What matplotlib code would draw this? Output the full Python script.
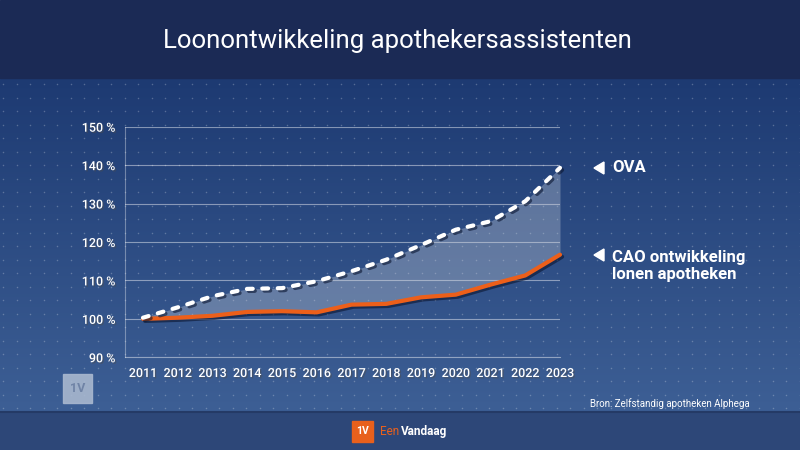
import numpy as np
import matplotlib
matplotlib.use("Agg")
import matplotlib.pyplot as plt
import matplotlib.patheffects as pe
from matplotlib.patches import Rectangle, Polygon

years = [2011, 2012, 2013, 2014, 2015, 2016, 2017, 2018, 2019, 2020, 2021, 2022, 2023]
ova = [100.3, 103.0, 105.9, 107.8, 108.0, 109.8, 112.4, 115.4, 119.2, 123.2, 125.4, 130.6, 139.3]
cao = [100.0, 100.3, 100.8, 101.8, 102.0, 101.7, 103.7, 103.9, 105.6, 106.3, 108.9, 111.3, 116.7]
yticks = [90, 100, 110, 120, 130, 140, 150]
title = "Loonontwikkeling apothekersassistenten"
label_ova = "OVA"
label_cao = "CAO ontwikkeling\nlonen apotheken"
source = "Bron: Zelfstandig apotheken Alphega"

plt.rcParams['font.family'] = ['Roboto', 'DejaVu Sans']

W, H = 800, 450
fig = plt.figure(figsize=(8, 4.5), dpi=100)

bg = fig.add_axes([0, 0, 1, 1])
bg.set_xlim(0, W)
bg.set_ylim(H, 0)
bg.axis('off')

grad = np.linspace(0, 1, 256).reshape(-1, 1)
top_c = np.array([0x1d, 0x3a, 0x72]) / 255
bot_c = np.array([0x3d, 0x5f, 0x95]) / 255
img = top_c + (bot_c - top_c) * grad
img = np.repeat(img[:, None, :], 2, axis=1).reshape(256, 2, 3)
bg.imshow(img, extent=[0, W, 412, 78], aspect='auto', zorder=0)

xs = np.arange(3, W, 13.5)
ys = np.arange(84, 410, 13.5)
gx, gy = np.meshgrid(xs, ys)
bg.scatter(gx.ravel(), gy.ravel(), s=1.2, color='white', alpha=0.25, lw=0, zorder=1)

bg.add_patch(Rectangle((0, 0), W, 78, color='#1b2a55', zorder=2))
bg.add_patch(Rectangle((0, 412), W, 38, color='#2d4778', zorder=2))
bg.plot([0, W], [412, 412], color='#243a66', lw=1.5, zorder=3)

bg.text(397, 41, title, color='white', fontsize=18.5, ha='center', va='center', zorder=4)

bg.add_patch(Rectangle((63, 374), 29, 29, color='#a9b8cf', alpha=0.9, zorder=3))
bg.text(77.5, 389, "1V", color='#6f83a6', fontsize=9, fontweight='bold', ha='center', va='center', zorder=4)

bg.text(750, 404, source, color='white', fontsize=7, ha='right', va='center', zorder=4)

bg.add_patch(Rectangle((352, 421), 21, 21, color='#e8601c', zorder=3))
bg.text(362.5, 431.5, "1V", color='white', fontsize=7.5, fontweight='bold', ha='center', va='center', zorder=4)
bg.text(380, 431.5, "Een", color='#e8601c', fontsize=8.5, ha='left', va='center', zorder=4)
bg.text(401, 431.5, "Vandaag", color='white', fontsize=8.5, fontweight='bold', ha='left', va='center', zorder=4)

for yy in (168, 255):
    bg.add_patch(Polygon([[594, yy], [604, yy - 6], [604, yy + 6]], closed=True, color='white', zorder=4))
bg.text(612, 168, label_ova, color='white', fontsize=12, fontweight='bold', ha='left', va='center', zorder=4)
bg.text(612, 266, label_cao, color='white', fontsize=12, fontweight='bold', ha='left', va='center',
        linespacing=1.1, zorder=4)

ax = fig.add_axes([125 / W, 1 - 357.3 / H, (560 - 125) / W, (357.3 - 126.7) / H])
ax.patch.set_alpha(0)
ax.set_xlim(2011 - 18 / 417 * 12, 2023)
ax.set_ylim(90, 150)
ax.set_yticks(yticks)
ax.set_yticklabels([f"{v} %" for v in yticks])
ax.set_xticks(years)
ax.set_xticklabels([str(y) for y in years])
for s in ['top', 'right']:
    ax.spines[s].set_visible(False)
ax.spines['left'].set_color((1, 1, 1, 0.35))
ax.spines['bottom'].set_color((1, 1, 1, 0.45))
ax.tick_params(length=0, colors='white', labelsize=9, pad=7)
for lab in ax.get_xticklabels() + ax.get_yticklabels():
    lab.set_fontweight('medium')
    lab.set_path_effects([pe.withSimplePatchShadow(offset=(1, -1), alpha=0.5)])
ax.grid(axis='y', color='white', alpha=0.45, lw=0.8)
ax.set_axisbelow(True)

ax.fill_between(years, cao, ova, color='#d0d5de', alpha=0.33, lw=0, zorder=2)
shadow = [pe.SimpleLineShadow(offset=(1.5, -1.5), shadow_color='#0a1530', alpha=0.6), pe.Normal()]
ax.plot(years, cao, color='#ec5f1a', lw=3, solid_capstyle='round', zorder=4,
        path_effects=shadow, clip_on=False)
ax.plot(years, ova, color='white', lw=3, ls=(0, (1.4, 2.3)), dash_capstyle='round', zorder=5,
        path_effects=shadow, clip_on=False)

fig.savefig("out.png", dpi=100)
